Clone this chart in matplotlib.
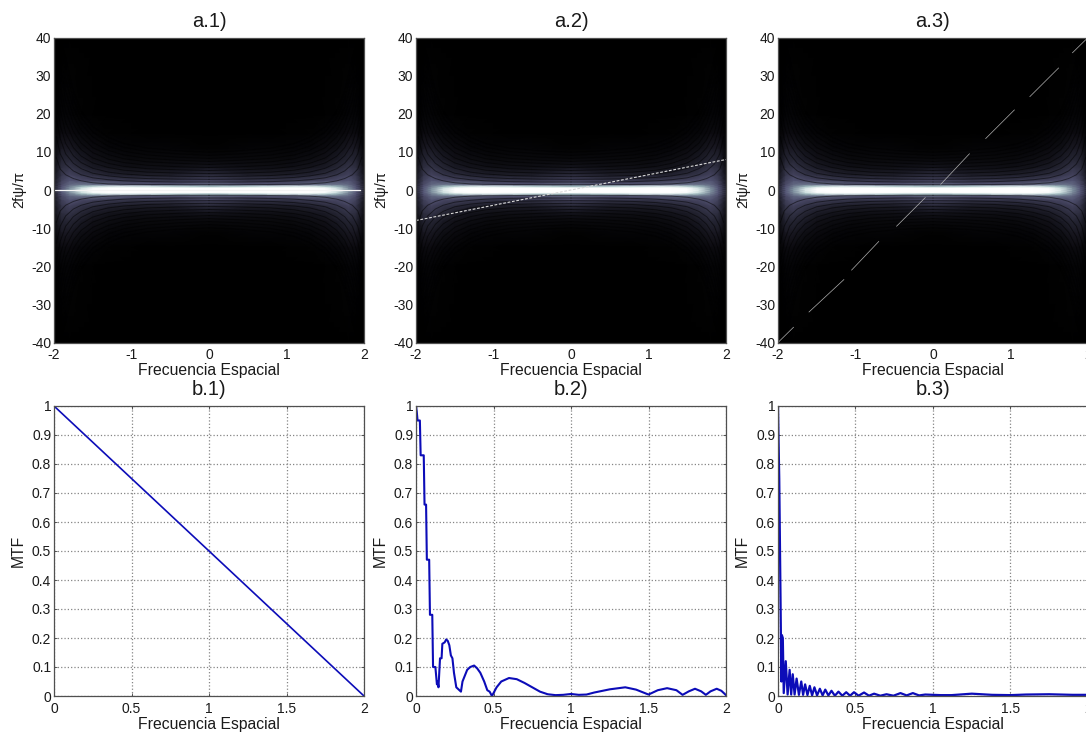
# -*- coding: utf-8 -*-
import matplotlib
matplotlib.use('Agg')
import matplotlib.pyplot as plt
import numpy as np

plt.rcParams['font.family'] = ['Liberation Sans', 'DejaVu Sans']
plt.rcParams['axes.unicode_minus'] = False

# funcion de ambiguedad, un cuadrante (filas psi, columnas f)
amb_f = [0, 0.5, 1.0, 1.3, 1.5, 1.65, 1.8, 1.9, 2.0]
amb_psi = [0, 0.6, 1.0, 1.5, 2.5, 4, 6, 8, 11, 15, 20, 40]
amb_levels = [
    [1.00, 1.00, 1.00, 1.00, 1.00, 0.90, 0.58, 0.38, 0.14],
    [1.00, 1.00, 1.00, 1.00, 0.98, 0.85, 0.55, 0.38, 0.14],
    [0.70, 0.80, 0.88, 0.88, 0.80, 0.68, 0.50, 0.36, 0.13],
    [0.42, 0.36, 0.38, 0.42, 0.46, 0.48, 0.44, 0.33, 0.11],
    [0.30, 0.24, 0.24, 0.27, 0.30, 0.33, 0.37, 0.29, 0.09],
    [0.19, 0.13, 0.13, 0.16, 0.20, 0.24, 0.30, 0.24, 0.07],
    [0.09, 0.07, 0.07, 0.09, 0.12, 0.17, 0.23, 0.20, 0.05],
    [0.04, 0.04, 0.04, 0.06, 0.08, 0.12, 0.17, 0.16, 0.04],
    [0.01, 0.02, 0.02, 0.03, 0.05, 0.07, 0.11, 0.11, 0.02],
    [0.00, 0.00, 0.005, 0.01, 0.02, 0.03, 0.05, 0.05, 0.01],
    [0.00, 0.00, 0.00, 0.00, 0.005, 0.01, 0.02, 0.02, 0.00],
    [0.00, 0.00, 0.00, 0.00, 0.00, 0.00, 0.00, 0.00, 0.00],
]

# franjas oscuras: psi de cada franja para cada f
fringe_f = [0, 0.4, 0.8, 1.1, 1.3, 1.5, 1.65, 1.75, 1.85, 1.92, 1.97]
fringe_psi = [
    [1.4, 1.4, 1.45, 1.5, 1.6, 1.9, 2.4, 3.0, 4.0, 5.5, 8.5],
    [2.1, 2.1, 2.2, 2.4, 2.7, 3.2, 4.0, 5.0, 6.8, 9.5, 14],
    [2.8, 2.85, 3.0, 3.3, 3.7, 4.4, 5.6, 7.0, 9.5, 13.5, 19],
    [3.5, 3.6, 3.8, 4.2, 4.7, 5.7, 7.2, 9, 12.2, 17, 24],
    [4.3, 4.45, 4.7, 5.2, 5.9, 7.1, 8.9, 11.1, 15, 21, 29],
    [5.1, 5.3, 5.6, 6.2, 7.0, 8.4, 10.6, 13.2, 17.8, 25, 33],
    [5.9, 6.1, 6.5, 7.2, 8.1, 9.8, 12.3, 15.3, 20.6, 28, 37],
    [6.7, 7, 7.4, 8.2, 9.3, 11.1, 14, 17.4, 23.4, 32, 40],
    [7.5, 7.8, 8.3, 9.2, 10.4, 12.5, 15.7, 19.5, 26, 35, 40],
    [8.3, 8.6, 9.2, 10.2, 11.5, 13.9, 17.4, 21.6, 29, 38, 40],
    [9.1, 9.5, 10.1, 11.2, 12.7, 15.2, 19, 23.7, 32, 40, 40],
    [9.9, 10.3, 11, 12.2, 13.8, 16.6, 20.7, 25.8, 34.5, 40, 40],
]

# rectas de corte sobre la ambiguedad
cut1_f = [-2, 1.95]
cut1_psi = [0, 0]
cut2_f = [-2, 2]
cut2_psi = [-8, 8]
cut3_segments = [
    ([-2, -1.8], [-40, -36]),
    ([-1.6, -1.15], [-32, -23.5]),
    ([-1.05, -0.7], [-21, -13.5]),
    ([-0.47, -0.1], [-9.5, -2]),
    ([0.1, 0.47], [1.5, 9.5]),
    ([0.68, 1.05], [13.5, 21]),
    ([1.25, 1.62], [24.5, 32]),
    ([1.8, 2], [36, 40]),
]

# MTF
mtf1_f = [0, 0.5, 1, 1.5, 2]
mtf1 = [1, 0.75, 0.5, 0.25, 0]

mtf2_f = [0, .005, .01, .025, .03, .05, .055, .065, .07, .085, .09, .105, .11, .125,
          .135, .14, .145, .15, .155, .165, .17, .185, .195, .205, .215, .225, .235,
          .245, .26, .27, .29, .30, .315, .33, .35, .375, .395, .415, .44, .46, .475,
          .49, .5, .52, .55, .6, .65, .7, .75, .8, .85, .9, .95, 1.0, 1.05, 1.1, 1.15,
          1.25, 1.35, 1.42, 1.5, 1.56, 1.62, 1.68, 1.72, 1.76, 1.8, 1.84, 1.87, 1.9,
          1.94, 1.97, 2.0]
mtf2 = [1, .98, .95, .95, .83, .83, .66, .66, .47, .47, .28, .28, .10, .10,
        .04, .05, .03, .08, .13, .13, .18, .185, .195, .19, .175, .14, .13,
        .08, .03, .025, .015, .05, .07, .09, .10, .105, .095, .08, .05, .02, .015,
        0, .01, .03, .05, .062, .058, .045, .03, .015, .006, .003, .004, .007, .004,
        .005, .012, .023, .03, .022, .005, .02, .027, .02, .004, .016, .025, .016,
        .004, .016, .025, .018, .003]

mtf3_f = [0, .003, .008, .012, .016, .02, .022, .025, .031, .037, .05, .062, .075, .085,
          .095, .107, .12, .135, .15, .162, .175, .19, .205, .22, .235, .252, .27, .288,
          .305, .325, .345, .367, .39, .415, .44, .465, .49, .52, .555, .587, .62, .66,
          .70, .745, .79, .83, .87, .91, .95, 1.05, 1.12, 1.25, 1.38, 1.5, 1.6, 1.75,
          1.9, 2.0]
mtf3 = [1, .9, .75, .55, .35, .14, .05, .21, .2, .01, .12, .005, .09, .005,
        .075, .005, .06, .004, .05, .004, .04, .003, .035, .002, .03, .002, .025, .002,
        .022, .002, .018, .001, .015, .001, .013, .001, .013, .001, .012, .001, .008, .001,
        .006, .001, .01, .002, .01, .002, .005, .003, .003, .008, .004, .003, .005, .006,
        .004, .004]

a_titles = ['a.1)', 'a.2)', 'a.3)']
b_titles = ['b.1)', 'b.2)', 'b.3)']
psi_ticks = [-40, -30, -20, -10, 0, 10, 20, 30, 40]
fa_ticks = [-2, -1, 0, 1, 2]
fb_ticks = [0, 0.5, 1, 1.5, 2]
fb_labels = ['0', '0.5', '1', '1.5', '2']
mtf_ticks = [0, .1, .2, .3, .4, .5, .6, .7, .8, .9, 1]
mtf_labels = ['0', '0.1', '0.2', '0.3', '0.4', '0.5', '0.6', '0.7', '0.8', '0.9', '1']

W, H = 1086, 732
left_px = [54, 416, 778]
fig = plt.figure(figsize=(W / 100, H / 100), dpi=100, facecolor='white')


def estilo(ax):
    ax.tick_params(direction='in', length=2.5, width=0.6, color='#404040', top=True, right=True,
                   labelsize=10, labelcolor='#1a1a1a')
    ax.tick_params(axis='x', pad=4)
    ax.tick_params(axis='y', pad=2)
    for sp in ax.spines.values():
        sp.set_color('#505050')
        sp.set_linewidth(0.9)


# mapa completo a partir del cuadrante
lev = np.array(amb_levels)
lev = np.hstack([lev[:, :0:-1], lev])
lev = np.vstack([lev[:0:-1], lev])
grid_f = np.r_[-np.array(amb_f[:0:-1]), amb_f]
grid_psi = np.r_[-np.array(amb_psi[:0:-1]), amb_psi]

for i in range(3):
    ax = fig.add_axes([left_px[i] / W, 1 - 342.5 / H, 310 / W, 305 / H])
    ax.pcolormesh(grid_f, grid_psi, lev, cmap='bone', vmin=0, vmax=1, shading='gouraud')
    for track in fringe_psi:
        for sx in (-1, 1):
            for sy in (-1, 1):
                ax.plot(sx * np.array(fringe_f), sy * np.array(track), color='black', lw=0.7, alpha=0.5)
    if i == 0:
        ax.plot(cut1_f, cut1_psi, color='#f4f4f4', lw=0.9)
    elif i == 1:
        ax.plot(cut2_f, cut2_psi, color='#d8d8d8', lw=0.8, dashes=(2.5, 1.5))
    else:
        for xs, ys in cut3_segments:
            ax.plot(xs, ys, color='#b0b0b0', lw=0.5)
    ax.set_xlim(-2, 2)
    ax.set_ylim(-40, 40)
    ax.set_xticks(fa_ticks)
    ax.set_yticks(psi_ticks)
    estilo(ax)
    ax.tick_params(length=0)
    ax.set_xlabel('Frecuencia Espacial', fontsize=11.3, labelpad=1, color='#1a1a1a')
    ax.set_ylabel('2f\u03c8/\u03c0', fontsize=10.5, color='#1a1a1a')
    ax.yaxis.set_label_coords(-28 / 310, 0.5)
    ax.set_title(a_titles[i], fontsize=14.5, pad=7.5, color='#1a1a1a')

series = [(mtf1_f, mtf1, 1.2), (mtf2_f, mtf2, 1.5), (mtf3_f, mtf3, 1.6)]
for i in range(3):
    ax = fig.add_axes([left_px[i] / W, 1 - 696 / H, 310 / W, 290 / H])
    xs, ys, lw = series[i]
    ax.plot(xs, ys, color='#0c0cb8', lw=lw)
    ax.set_xlim(0, 2)
    ax.set_ylim(0, 1)
    ax.set_xticks(fb_ticks)
    ax.set_xticklabels(fb_labels)
    ax.set_yticks(mtf_ticks)
    ax.set_yticklabels(mtf_labels)
    ax.grid(True, linestyle=':', color='#858585', lw=0.9)
    ax.set_axisbelow(True)
    estilo(ax)
    ax.set_xlabel('Frecuencia Espacial', fontsize=11.3, labelpad=1, color='#1a1a1a')
    ax.set_ylabel('MTF', fontsize=11.3, color='#1a1a1a')
    ax.yaxis.set_label_coords(-28 / 310, 0.5)
    ax.set_title(b_titles[i], fontsize=14.5, pad=8, color='#1a1a1a')

fig.savefig('out.png', dpi=100)
